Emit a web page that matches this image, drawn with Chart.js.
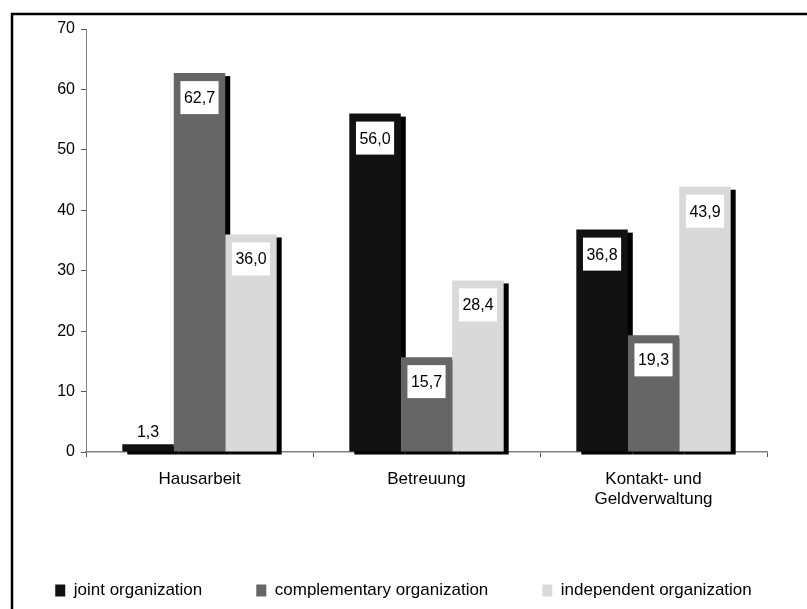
<!DOCTYPE html>
<html>
<head>
<meta charset="utf-8">
<script src="https://cdn.jsdelivr.net/npm/chart.js@4.4.1/dist/chart.umd.min.js"></script>
<style>
  body { margin: 0; background: #ffffff; }
  #wrap { width: 807px; height: 609px; position: relative; }
</style>
</head>
<body>
<div id="wrap"><canvas id="myChart"></canvas></div>
<script>
const categories = ['Hausarbeit', 'Betreuung', ['Kontakt- und', 'Geldverwaltung']];
const seriesNames = ['joint organization', 'complementary organization', 'independent organization'];
const jointValues = [1.3, 56.0, 36.8];
const complementaryValues = [62.7, 15.7, 19.3];
const independentValues = [36.0, 28.4, 43.9];
const yTicks = [0, 10, 20, 30, 40, 50, 60, 70];

const colors = ['#111111', '#666666', '#d9d9d9'];
const FONT = 'Liberation Sans, Arial, sans-serif';

// black drop shadow behind each bar
const shadowPlugin = {
    id: 'barShadow',
    beforeDatasetsDraw(chart) {
        const ctx = chart.ctx;
        ctx.save();
        ctx.fillStyle = '#000000';
        chart.data.datasets.forEach((ds, i) => {
            chart.getDatasetMeta(i).data.forEach(bar => {
                const w = bar.width;
                ctx.fillRect(bar.x - w / 2 + 5, bar.y + 3, w, bar.base - bar.y);
            });
        });
        ctx.restore();
    }
};

// white boxed value labels
const valueLabels = {
    id: 'valueLabels',
    afterDatasetsDraw(chart) {
        const ctx = chart.ctx;
        ctx.save();
        ctx.font = '16px ' + FONT;
        ctx.textAlign = 'center';
        ctx.textBaseline = 'middle';
        chart.data.datasets.forEach((ds, i) => {
            chart.getDatasetMeta(i).data.forEach((bar, j) => {
                const txt = ds.data[j].toFixed(1).replace('.', ',');
                const tw = ctx.measureText(txt).width;
                const bh = 33, bw = tw + 7;
                const h = bar.base - bar.y;
                if (h < bh + 12) {
                    ctx.fillStyle = '#000000';
                    ctx.fillText(txt, bar.x, bar.y - 12);
                    return;
                }
                const top = bar.y + 8;
                ctx.fillStyle = '#ffffff';
                ctx.fillRect(bar.x - bw / 2, top, bw, bh);
                ctx.fillStyle = '#000000';
                ctx.fillText(txt, bar.x, top + bh / 2 + 1);
            });
        });
        ctx.restore();
    }
};

// outer frame (top and left edges visible)
const framePlugin = {
    id: 'frame',
    afterDraw(chart) {
        const ctx = chart.ctx;
        ctx.save();
        ctx.strokeStyle = '#000000';
        ctx.lineWidth = 2.5;
        ctx.strokeRect(12, 14, 900, 700);
        ctx.restore();
    }
};

const ctx = document.getElementById('myChart').getContext('2d');
new Chart(ctx, {
    type: 'bar',
    plugins: [shadowPlugin, valueLabels, framePlugin],
    data: {
        labels: categories,
        datasets: [
            { label: seriesNames[0], data: jointValues, backgroundColor: colors[0] },
            { label: seriesNames[1], data: complementaryValues, backgroundColor: colors[1] },
            { label: seriesNames[2], data: independentValues, backgroundColor: colors[2] }
        ]
    },
    options: {
        responsive: true,
        maintainAspectRatio: false,
        animation: false,
        datasets: {
            bar: { categoryPercentage: 0.68, barPercentage: 1.0, borderWidth: 0 }
        },
        layout: { padding: { left: 0, right: 0, top: 29, bottom: 0 } },
        plugins: {
            legend: {
                position: 'bottom',
                labels: {
                    boxWidth: 10,
                    boxHeight: 12,
                    padding: 54,
                    color: '#000000',
                    font: { family: FONT, size: 17 }
                }
            },
            tooltip: { enabled: false }
        },
        scales: {
            x: {
                z: 1,
                grid: { display: true, offset: true, drawOnChartArea: false, tickLength: 5, color: '#555555' },
                border: { color: '#808080', width: 1.5 },
                ticks: { color: '#000000', padding: 12, font: { family: FONT, size: 17 } },
                afterFit(s) { s.height = 76; }
            },
            y: {
                min: yTicks[0],
                max: yTicks[yTicks.length - 1],
                afterBuildTicks(s) { s.ticks = yTicks.map(v => ({ value: v })); },
                grid: { display: true, drawOnChartArea: false, tickLength: 5, color: '#555555' },
                border: { color: '#808080', width: 1 },
                ticks: { color: '#000000', padding: 6, font: { family: FONT, size: 16 } },
                afterFit(s) { s.width = 86; }
            },
            // empty right margin so the plot ends where the reference does
            spacer: {
                type: 'linear',
                position: 'right',
                grid: { display: false },
                border: { display: false },
                ticks: { display: false },
                afterFit(s) { s.width = 40; }
            }
        }
    }
});
</script>
</body>
</html>
